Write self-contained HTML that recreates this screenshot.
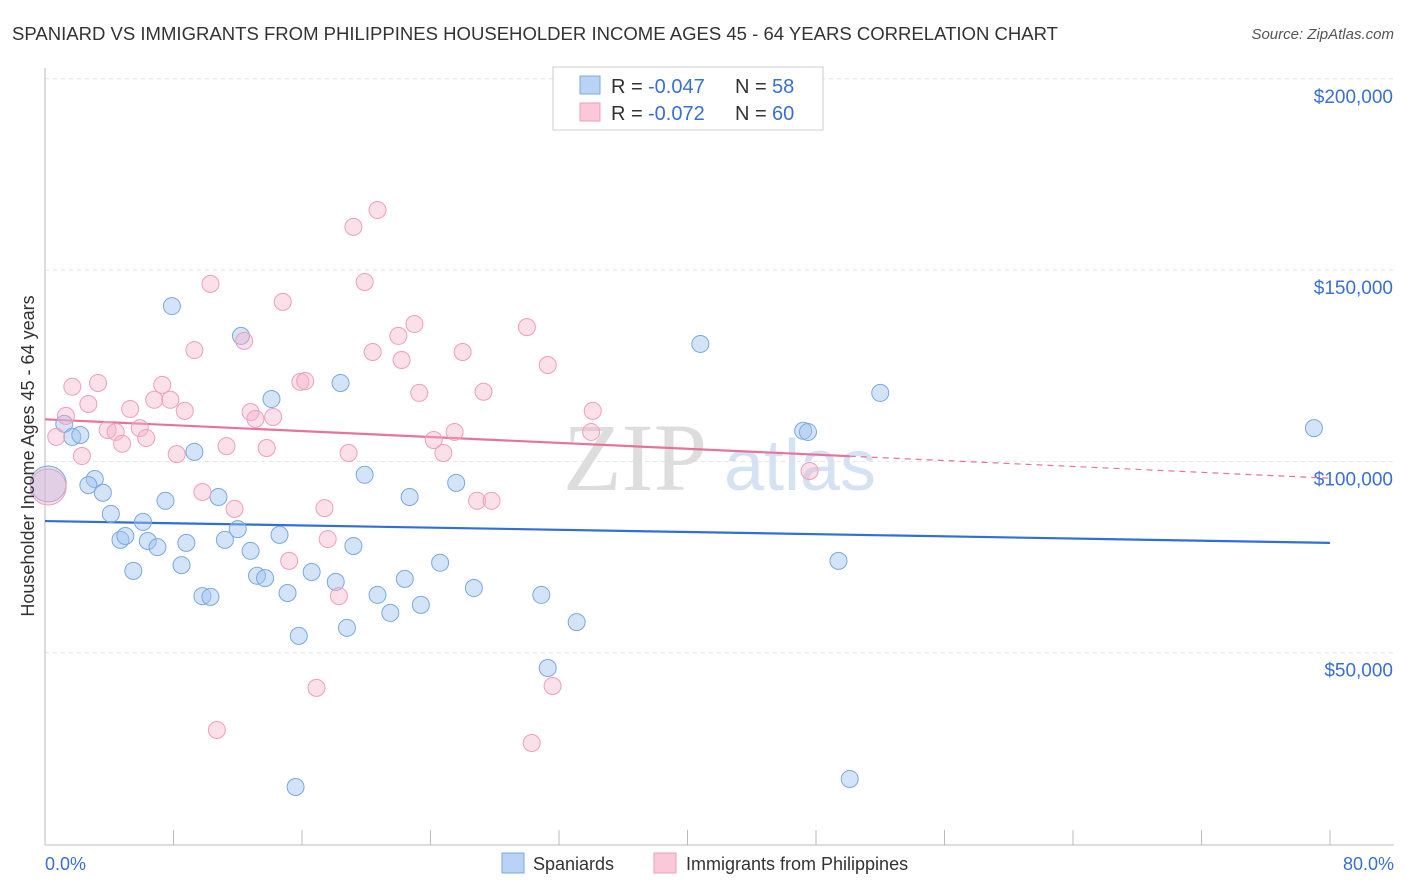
<!DOCTYPE html>
<html><head><meta charset="utf-8"><style>
body{margin:0;background:#fff;font-family:"Liberation Sans",sans-serif;}
svg{display:block}
</style></head><body>
<svg id="chart" width="1406" height="892">
<text x="12" y="40" font-size="18" fill="#333" textLength="1046" lengthAdjust="spacingAndGlyphs">SPANIARD VS IMMIGRANTS FROM PHILIPPINES HOUSEHOLDER INCOME AGES 45 - 64 YEARS CORRELATION CHART</text>
<text x="1394" y="39" font-size="15" fill="#555" text-anchor="end" font-style="italic">Source: ZipAtlas.com</text>
<g id="grid"></g>
<g>
<text x="635" y="490" font-size="96" fill="#ddd" text-anchor="middle" font-family="Liberation Serif,serif">ZIP</text>
<text x="800" y="490" font-size="72" fill="#d4e2f4" text-anchor="middle">atlas</text>
</g>
<g id="trend"></g>
<g id="points"></g>
<text transform="translate(34,456) rotate(-90)" font-size="18" fill="#333" text-anchor="middle">Householder Income Ages 45 - 64 years</text>
<text x="45" y="870" font-size="18" fill="#3a6fd0">0.0%</text>
<text x="1394" y="870" font-size="18" fill="#3a6fd0" text-anchor="end">80.0%</text>
<g>
<rect x="553" y="67" width="270" height="63" fill="#fff" stroke="#ccc"/>
<rect x="580" y="76" width="20" height="18" fill="#b8d3f5" stroke="#7aa8e0"/>
<rect x="580" y="103" width="20" height="18" fill="#fac8d8" stroke="#eea0b8"/>
<text x="611" y="93" font-size="20" fill="#333">R =</text>
<text x="648" y="93" font-size="20" fill="#3a6fd0">-0.047</text>
<text x="735" y="93" font-size="20" fill="#333">N =</text>
<text x="772" y="93" font-size="20" fill="#3a6fd0">58</text>
<text x="611" y="120" font-size="20" fill="#333">R =</text>
<text x="648" y="120" font-size="20" fill="#3a6fd0">-0.072</text>
<text x="735" y="120" font-size="20" fill="#333">N =</text>
<text x="772" y="120" font-size="20" fill="#3a6fd0">60</text>
</g>
<g>
<rect x="502" y="853" width="22" height="20" fill="#b8d3f5" stroke="#7aa8e0"/>
<text x="533" y="870" font-size="18" fill="#333">Spaniards</text>
<rect x="654" y="853" width="22" height="20" fill="#fac8d8" stroke="#eea0b8"/>
<text x="686" y="870" font-size="18" fill="#333">Immigrants from Philippines</text>
</g>
</svg>
<script>
const yTicks=[50000,100000,150000,200000];
const yTickLabels=["$50,000","$100,000","$150,000","$200,000"];
const xTicks=[0,8,16,24,32,40,48,56,64,72,80];
const blueX=[0.2,1.2,1.7,2.2,3.1,2.7,3.6,4.1,4.7,5.0,5.5,6.1,6.4,7.0,7.5,7.9,8.5,8.8,9.3,9.8,10.3,10.8,11.2,12.0,12.2,12.8,13.2,13.7,14.1,14.6,15.1,15.8,15.6,16.6,18.1,18.4,18.8,19.2,19.9,20.7,21.5,22.4,22.7,23.4,24.6,25.6,26.7,30.9,31.3,33.1,40.8,47.2,47.5,49.4,50.1,52.0,79.0];
const blueY=[94.1,109.8,106.4,106.9,95.4,93.8,91.8,86.3,79.5,80.5,71.4,84.2,79.2,77.6,89.7,140.6,72.9,78.7,102.5,64.8,64.6,90.7,79.5,82.3,132.8,76.6,70.1,69.5,116.3,80.8,65.6,54.4,14.9,71.1,68.5,120.5,56.5,77.9,96.5,65.1,60.4,69.3,90.7,62.5,73.5,94.4,66.9,65.1,46.0,58.0,130.7,108.0,107.7,74.0,17.0,117.9,108.7];
const pinkX=[0.2,0.7,1.3,1.7,2.3,2.7,3.3,3.9,4.4,4.8,5.3,5.9,6.3,6.8,7.3,7.8,8.2,8.7,9.3,9.8,10.3,10.7,11.3,11.8,12.4,12.8,13.1,13.8,14.2,14.8,15.2,15.9,16.2,16.9,17.4,17.6,18.3,18.9,19.2,19.9,20.4,20.7,22.0,22.2,23.0,23.3,24.2,24.8,25.5,26.0,26.9,27.3,27.8,30.0,30.3,31.3,31.6,34.1,34.0,47.6];
const pinkY=[93.3,106.4,111.9,119.5,101.4,115.0,120.5,108.2,107.7,104.6,113.7,108.7,106.1,116.1,120.0,116.1,101.9,113.2,129.1,92.0,146.4,29.8,104.0,87.6,131.5,112.9,111.1,103.5,111.6,141.7,74.0,120.8,121.0,40.8,87.8,79.7,64.8,102.2,161.3,146.9,128.6,165.7,132.8,126.5,135.9,117.9,105.6,102.2,107.7,128.6,89.7,118.2,89.7,135.1,26.4,125.2,41.3,113.2,107.7,97.5];
const blueTrend=[84.4,78.7];
const pinkTrend=[111.0,95.6];
const pinkSolidEnd=50.1;
const NS="http://www.w3.org/2000/svg";
const X=p=>45+p*1285/80;
const Y=v=>844-v*191.3/50000;
const Yk=k=>Y(k*1000);
function mk(tag,attrs,parent){const e=document.createElementNS(NS,tag);for(const k in attrs)e.setAttribute(k,attrs[k]);parent.appendChild(e);return e;}
const grid=document.getElementById('grid');
yTicks.forEach((t,i)=>{
 const l=mk('line',{x1:45,x2:1394,y1:Y(t),y2:Y(t),stroke:'#e4e4e4','stroke-dasharray':'4,4'},grid);
 
 
 const tx=mk('text',{x:1393,y:Y(t)+24,'font-size':19,fill:'#3a6fd0','text-anchor':'end'},grid);
 tx.textContent=yTickLabels[i];
 
 
});
const ya=mk('line',{x1:45,x2:45,y1:68,y2:845,stroke:'#bbb'},grid);


const xa=mk('line',{x1:45,x2:1394,y1:845,y2:845,stroke:'#bbb'},grid);


xTicks.forEach(t=>{
 const l=mk('line',{x1:X(t),x2:X(t),y1:830,y2:845,stroke:'#bbb'},grid);
 
 
});
const pts=document.getElementById('points');
function draw(xs,ys,fill,stroke,name){
 xs.forEach((x,i)=>{
  const r=(i===0)?18:8.5;
  const c=mk('circle',{cx:X(x),cy:Yk(ys[i]),r:r,fill:fill,stroke:stroke,'stroke-width':1},pts);
  
  
 });
}
draw(blueX,blueY,'rgba(160,195,240,0.45)','#7aa8e0','spaniard-point');
draw(pinkX,pinkY,'rgba(245,175,200,0.4)','#eea0b8','philippines-point');
const tr=document.getElementById('trend');
const bl=mk('line',{x1:X(0),y1:Yk(blueTrend[0]),x2:X(80),y2:Yk(blueTrend[1]),stroke:'#2f6fd6','stroke-width':2.2},tr);


const pv=p=>pinkTrend[0]+(pinkTrend[1]-pinkTrend[0])*p/80;
const pl=mk('line',{x1:X(0),y1:Yk(pv(0)),x2:X(pinkSolidEnd),y2:Yk(pv(pinkSolidEnd)),stroke:'#e8739a','stroke-width':2.2},tr);


const pd=mk('line',{x1:X(pinkSolidEnd),y1:Yk(pv(pinkSolidEnd)),x2:X(80),y2:Yk(pv(80)),stroke:'#e8739a','stroke-width':1.2,'stroke-dasharray':'6,5'},tr);


</script>
</body></html>
